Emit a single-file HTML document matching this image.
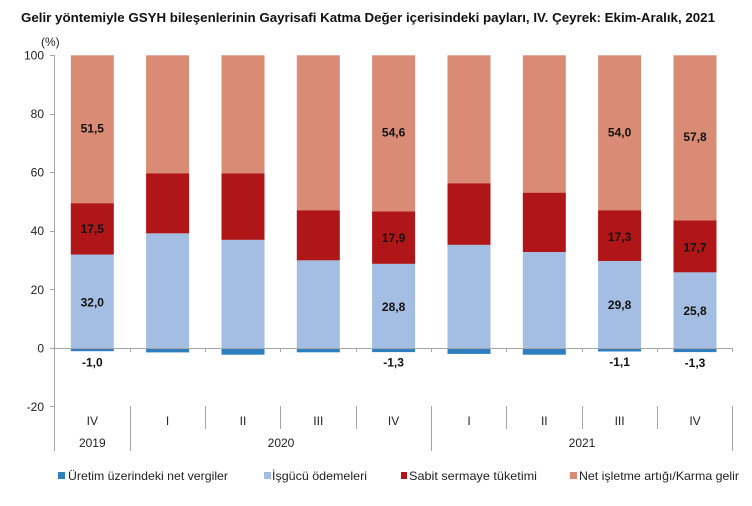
<!DOCTYPE html>
<html><head><meta charset="utf-8"><style>
html,body{margin:0;padding:0;background:#fff;}
svg{display:block;}
text{font-family:"Liberation Sans",Arial,sans-serif;}
</style></head><body>
<svg width="752" height="506" viewBox="0 0 752 506" xmlns="http://www.w3.org/2000/svg">
<rect width="752" height="506" fill="#fff"/>
<text x="21" y="22" font-size="13" font-weight="bold" fill="#111" textLength="694" lengthAdjust="spacingAndGlyphs">Gelir yöntemiyle GSYH bileşenlerinin Gayrisafi Katma Değer içerisindeki payları, IV. Çeyrek: Ekim-Aralık, 2021</text>
<text x="41" y="46" font-size="12" fill="#222">(%)</text>
<g font-size="12" fill="#222" text-anchor="end">
<text x="44" y="59.5">100</text>
<text x="44" y="118">80</text>
<text x="44" y="176.6">60</text>
<text x="44" y="235.2">40</text>
<text x="44" y="293.8">20</text>
<text x="44" y="352.5">0</text>
<text x="44" y="411">-20</text>
</g>
<!-- bars -->
<g id="bars">
<!-- bar 1 -->
<rect x="70.8" y="55.3" width="43" height="148.1" fill="#D98B75"/>
<rect x="70.8" y="203.3" width="43" height="51.3" fill="#B01517"/>
<rect x="70.8" y="254.5" width="43" height="93.8" fill="#A3BEE2"/>
<rect x="70.8" y="348.3" width="43" height="2.9" fill="#2F7EC0"/>
<!-- bar 2 -->
<rect x="146.1" y="55.3" width="43" height="118.1" fill="#D98B75"/>
<rect x="146.1" y="173.4" width="43" height="60.0" fill="#B01517"/>
<rect x="146.1" y="233.4" width="43" height="114.9" fill="#A3BEE2"/>
<rect x="146.1" y="348.3" width="43" height="4.1" fill="#2F7EC0"/>
<!-- bar 3 -->
<rect x="221.5" y="55.3" width="43" height="118.1" fill="#D98B75"/>
<rect x="221.5" y="173.4" width="43" height="66.5" fill="#B01517"/>
<rect x="221.5" y="239.9" width="43" height="108.4" fill="#A3BEE2"/>
<rect x="221.5" y="348.3" width="43" height="6.4" fill="#2F7EC0"/>
<!-- bar 4 -->
<rect x="296.8" y="55.3" width="43" height="155.0" fill="#D98B75"/>
<rect x="296.8" y="210.3" width="43" height="50.1" fill="#B01517"/>
<rect x="296.8" y="260.4" width="43" height="87.9" fill="#A3BEE2"/>
<rect x="296.8" y="348.3" width="43" height="4.0" fill="#2F7EC0"/>
<!-- bar 5 -->
<rect x="372.1" y="55.3" width="43" height="156.2" fill="#D98B75"/>
<rect x="372.1" y="211.5" width="43" height="52.4" fill="#B01517"/>
<rect x="372.1" y="263.9" width="43" height="84.4" fill="#A3BEE2"/>
<rect x="372.1" y="348.3" width="43" height="3.8" fill="#2F7EC0"/>
<!-- bar 6 -->
<rect x="447.5" y="55.3" width="43" height="128.0" fill="#D98B75"/>
<rect x="447.5" y="183.3" width="43" height="61.6" fill="#B01517"/>
<rect x="447.5" y="244.9" width="43" height="103.4" fill="#A3BEE2"/>
<rect x="447.5" y="348.3" width="43" height="5.6" fill="#2F7EC0"/>
<!-- bar 7 -->
<rect x="522.8" y="55.3" width="43" height="137.4" fill="#D98B75"/>
<rect x="522.8" y="192.7" width="43" height="59.3" fill="#B01517"/>
<rect x="522.8" y="252.0" width="43" height="96.3" fill="#A3BEE2"/>
<rect x="522.8" y="348.3" width="43" height="6.4" fill="#2F7EC0"/>
<!-- bar 8 -->
<rect x="598.1" y="55.3" width="43" height="155.0" fill="#D98B75"/>
<rect x="598.1" y="210.3" width="43" height="50.7" fill="#B01517"/>
<rect x="598.1" y="261.0" width="43" height="87.3" fill="#A3BEE2"/>
<rect x="598.1" y="348.3" width="43" height="3.2" fill="#2F7EC0"/>
<!-- bar 9 -->
<rect x="673.5" y="55.3" width="43" height="165.2" fill="#D98B75"/>
<rect x="673.5" y="220.5" width="43" height="51.9" fill="#B01517"/>
<rect x="673.5" y="272.4" width="43" height="75.9" fill="#A3BEE2"/>
<rect x="673.5" y="348.3" width="43" height="3.8" fill="#2F7EC0"/>
</g>
<!-- axes -->
<g stroke="#A6A6A6" stroke-width="1" fill="none">
<line x1="54.5" y1="55" x2="54.5" y2="451"/>
<line x1="50" y1="348.5" x2="733" y2="348.5"/>
<line x1="50" y1="55.5" x2="54" y2="55.5"/>
<line x1="50" y1="114.5" x2="54" y2="114.5"/>
<line x1="50" y1="172.5" x2="54" y2="172.5"/>
<line x1="50" y1="231.5" x2="54" y2="231.5"/>
<line x1="50" y1="289.5" x2="54" y2="289.5"/>
<line x1="50" y1="406.5" x2="54" y2="406.5"/>
<!-- zero line ticks -->
<line x1="130.5" y1="348" x2="130.5" y2="352"/>
<line x1="205.5" y1="348" x2="205.5" y2="352"/>
<line x1="280.5" y1="348" x2="280.5" y2="352"/>
<line x1="356.5" y1="348" x2="356.5" y2="352"/>
<line x1="431.5" y1="348" x2="431.5" y2="352"/>
<line x1="506.5" y1="348" x2="506.5" y2="352"/>
<line x1="582.5" y1="348" x2="582.5" y2="352"/>
<line x1="657.5" y1="348" x2="657.5" y2="352"/>
<line x1="732.5" y1="348" x2="732.5" y2="352"/>
<!-- category separators -->
<line x1="130.5" y1="406" x2="130.5" y2="451"/>
<line x1="205.5" y1="406" x2="205.5" y2="429"/>
<line x1="280.5" y1="406" x2="280.5" y2="429"/>
<line x1="356.5" y1="406" x2="356.5" y2="429"/>
<line x1="431.5" y1="406" x2="431.5" y2="451"/>
<line x1="506.5" y1="406" x2="506.5" y2="429"/>
<line x1="582.5" y1="406" x2="582.5" y2="429"/>
<line x1="657.5" y1="406" x2="657.5" y2="429"/>
<line x1="732.5" y1="406" x2="732.5" y2="451"/>
</g>
<!-- category labels -->
<g font-size="12" fill="#222" text-anchor="middle">
<text x="92.3" y="425">IV</text>
<text x="167.6" y="425">I</text>
<text x="243" y="425">II</text>
<text x="318.3" y="425">III</text>
<text x="393.6" y="425">IV</text>
<text x="469" y="425">I</text>
<text x="544.3" y="425">II</text>
<text x="619.6" y="425">III</text>
<text x="695" y="425">IV</text>
<text x="92.3" y="447">2019</text>
<text x="281" y="447">2020</text>
<text x="582" y="447">2021</text>
</g>
<!-- value labels -->
<g font-size="12" font-weight="bold" fill="#111" text-anchor="middle">
<text x="92.3" y="132.5">51,5</text>
<text x="92.3" y="233">17,5</text>
<text x="92.3" y="306.5">32,0</text>
<text x="92.3" y="366.5">-1,0</text>
<text x="393.6" y="136.5">54,6</text>
<text x="393.6" y="242">17,9</text>
<text x="393.6" y="311">28,8</text>
<text x="393.6" y="366.5">-1,3</text>
<text x="619.6" y="136.5">54,0</text>
<text x="619.6" y="241">17,3</text>
<text x="619.6" y="309">29,8</text>
<text x="619.6" y="366">-1,1</text>
<text x="695" y="141">57,8</text>
<text x="695" y="251.5">17,7</text>
<text x="695" y="315">25,8</text>
<text x="695" y="367">-1,3</text>
</g>
<!-- legend -->
<rect x="58" y="472" width="7" height="7" fill="#2F7EC0"/>
<text x="68" y="480" font-size="12" fill="#222" textLength="160" lengthAdjust="spacingAndGlyphs">Üretim üzerindeki net vergiler</text>
<rect x="264" y="472" width="7" height="7" fill="#A3BEE2"/>
<text x="272" y="480" font-size="12" fill="#222" textLength="95" lengthAdjust="spacingAndGlyphs">İşgücü ödemeleri</text>
<rect x="401" y="472" width="6" height="7" fill="#B01517"/>
<text x="409" y="480" font-size="12" fill="#222" textLength="128" lengthAdjust="spacingAndGlyphs">Sabit sermaye tüketimi</text>
<rect x="570" y="472" width="7" height="7" fill="#D98B75"/>
<text x="579" y="480" font-size="12" fill="#222" textLength="160" lengthAdjust="spacingAndGlyphs">Net işletme artığı/Karma gelir</text>
</svg>
</body></html>
